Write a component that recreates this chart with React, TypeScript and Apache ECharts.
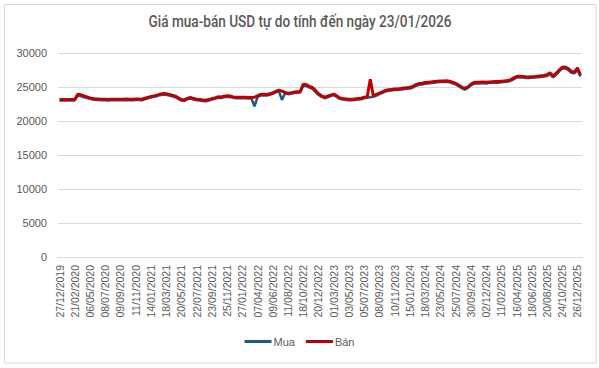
import React, { useEffect, useRef } from "react";
import * as echarts from "echarts";

const tickLabels = [
  "27/12/2019", "21/02/2020", "06/05/2020", "08/07/2020", "09/09/2020", "11/11/2020",
  "14/01/2021", "18/03/2021", "20/05/2021", "22/07/2021", "23/09/2021", "25/11/2021",
  "27/01/2022", "07/04/2022", "09/06/2022", "11/08/2022", "18/10/2022", "20/12/2022",
  "01/03/2023", "03/05/2023", "05/07/2023", "08/09/2023", "10/11/2023", "15/01/2024",
  "18/03/2024", "23/05/2024", "25/07/2024", "30/09/2024", "02/12/2024", "11/02/2025",
  "16/04/2025", "18/06/2025", "20/08/2025", "24/10/2025", "26/12/2025",
];
const pointsPerTick = 5;

const banValues = [
  23150, 23150, 23160, 23150, 23170, 23180,
  23950, 23850, 23700, 23550, 23400, 23300,
  23250, 23220, 23200, 23200, 23180, 23200, 23210, 23200, 23190, 23200, 23220, 23200, 23210, 23230, 23220, 23200,
  23350, 23480, 23600, 23700, 23800, 23950, 24050, 24000, 23900, 23780, 23650, 23400,
  23150, 23100, 23350, 23450, 23300, 23200, 23150, 23100, 23050, 23150,
  23300, 23400, 23550, 23520, 23650, 23700, 23680, 23550, 23480, 23500,
  23480, 23500, 23460, 23450, 23500, 23700, 23900, 23950, 23900, 24000,
  24150, 24350, 24550, 24400, 24200, 24100, 24150, 24250, 24300, 24350,
  25400, 25350, 25100, 24950, 24500, 24000, 23700, 23500, 23650, 23800,
  23950, 23700, 23400, 23300, 23250, 23200, 23200, 23250, 23300, 23350,
  23500, 23580, 26150, 23700, 23900, 24100, 24300, 24500, 24600, 24650,
  24700, 24720, 24780, 24850, 24900, 24950, 25100, 25350, 25500, 25550,
  25650, 25700, 25750, 25800, 25850, 25900, 25900, 25930, 25850, 25700,
  25550, 25300, 25000, 24800, 25000, 25400, 25650, 25700, 25700, 25750,
  25700, 25750, 25780, 25800, 25800, 25850, 25900, 25950, 26050, 26300,
  26550, 26600, 26550, 26500, 26480, 26520, 26550, 26600, 26650, 26700,
  26800, 27100, 26600, 27000, 27500, 27900, 27950, 27700, 27300, 27200,
  27800, 26750,
];

const muaValues = [
  23000, 23000, 23010, 23000, 23020, 23030,
  23750, 23650, 23500, 23380, 23250, 23150,
  23100, 23070, 23050, 23050, 23030, 23050, 23060, 23050, 23040, 23050, 23070, 23050, 23060, 23080, 23070, 23050,
  23200, 23330, 23450, 23550, 23650, 23800, 23900, 23850, 23750, 23630, 23500, 23250,
  23000, 22950, 23200, 23300, 23150, 23050, 23000, 22950, 22900, 23000,
  23150, 23250, 23400, 23370, 23500, 23550, 23530, 23400, 23330, 23350,
  23330, 23350, 23310, 23300, 22150, 23550, 23750, 23800, 23750, 23850,
  24000, 24200, 24400, 23100, 24050, 23950, 24000, 24100, 24150, 24200,
  25200, 25150, 24900, 24750, 24300, 23850, 23550, 23350, 23500, 23650,
  23800, 23550, 23250, 23150, 23100, 23050, 23050, 23100, 23150, 23200,
  23350, 23430, 23500, 23550, 23750, 23950, 24150, 24350, 24450, 24500,
  24550, 24570, 24630, 24680, 24730, 24780, 24930, 25180, 25330, 25380,
  25480, 25530, 25580, 25630, 25680, 25730, 25730, 25760, 25680, 25530,
  25380, 25130, 24830, 24630, 24830, 25230, 25480, 25530, 25530, 25580,
  25530, 25580, 25610, 25630, 25630, 25680, 25730, 25780, 25880, 26130,
  26380, 26430, 26380, 26330, 26310, 26350, 26380, 26430, 26480, 26530,
  26630, 26900, 26430, 26800, 27300, 27700, 27750, 27500, 27100, 27000,
  27550, 26550,
];

const yTicks = { min: 0, max: 30000, interval: 5000 };
const titleText = "Giá mua-bán USD tự do tính đến ngày 23/01/2026";

export default function App() {
  const ref = useRef<HTMLDivElement>(null);
  useEffect(() => {
    document.body.style.margin = "0";
    if (!ref.current) return;
    const chart = echarts.init(ref.current, null, { renderer: "svg" });
    const categories = banValues.map((_, i) =>
      i % pointsPerTick === 0 && tickLabels[i / pointsPerTick] ? tickLabels[i / pointsPerTick] : ""
    );
    const font = "'Liberation Sans', Arial, sans-serif";
    chart.setOption({
      animation: false,
      backgroundColor: "#ffffff",
      graphic: [
        {
          type: "rect",
          shape: { x: 4.5, y: 4.5, width: 591.5, height: 358.5 },
          style: { fill: "none", stroke: "#D9D9D9", lineWidth: 1 },
          silent: true,
        },
        {
          type: "text",
          x: 300,
          y: 21,
          scaleX: 0.8,
          silent: true,
          style: {
            text: titleText,
            fontFamily: "Roboto, 'Liberation Sans', sans-serif",
            fontSize: 17,
            fontWeight: 500,
            fill: "#595959",
            align: "center",
            verticalAlign: "middle",
          },
        },
      ],
      legend: {
        bottom: 16,
        left: "center",
        itemWidth: 27,
        itemHeight: 3,
        itemGap: 11,
        icon: "rect",
        textStyle: { color: "#595959", fontSize: 11, fontFamily: font, padding: [0, 0, 0, -3] },
        data: ["Mua", "Bán"],
      },
      grid: { left: 58, right: 17, top: 53, bottom: 111, containLabel: false },
      xAxis: {
        type: "category",
        data: categories,
        boundaryGap: true,
        axisLine: { lineStyle: { color: "#D9D9D9" } },
        axisTick: { show: false },
        axisLabel: {
          interval: pointsPerTick - 1,
          rotate: 90,
          margin: 8,
          fontSize: 10.5,
          color: "#595959",
          fontFamily: font,
        },
      },
      yAxis: {
        type: "value",
        min: yTicks.min,
        max: yTicks.max,
        interval: yTicks.interval,
        axisLine: { show: false },
        axisTick: { show: false },
        splitLine: { lineStyle: { color: "#D9D9D9" } },
        axisLabel: {
          fontSize: 11,
          color: "#595959",
          fontFamily: font,
          margin: 11,
          formatter: (v: number) => String(v),
        },
      },
      series: [
        {
          name: "Mua",
          type: "line",
          data: muaValues,
          symbol: "none",
          lineStyle: { color: "#156082", width: 2.5 },
          itemStyle: { color: "#156082" },
        },
        {
          name: "Bán",
          type: "line",
          data: banValues,
          symbol: "none",
          lineStyle: { color: "#C00000", width: 3 },
          itemStyle: { color: "#C00000" },
        },
      ],
    });
    return () => chart.dispose();
  }, []);
  return <div ref={ref} style={{ width: 599, height: 368 }} />;
}
